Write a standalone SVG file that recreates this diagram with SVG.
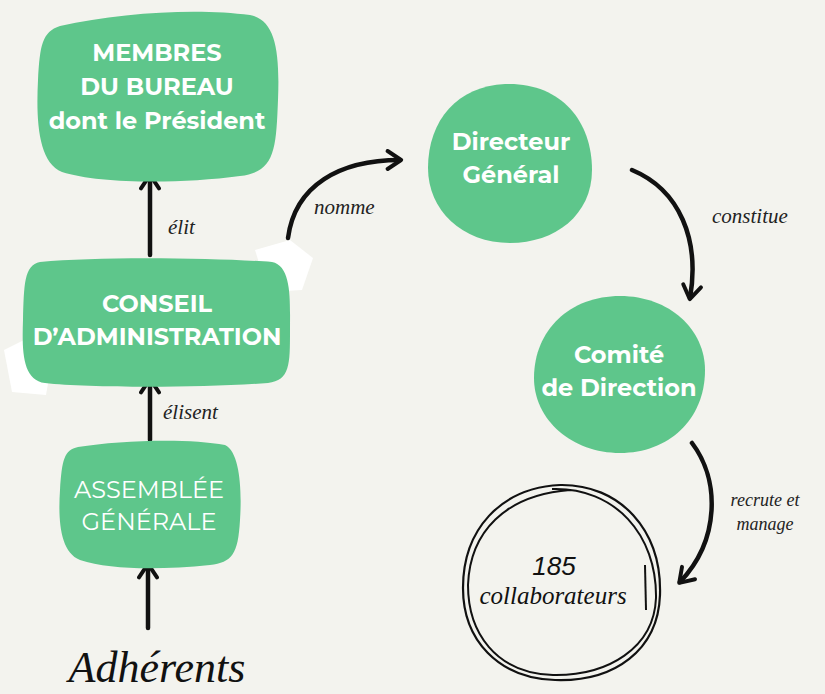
<svg xmlns="http://www.w3.org/2000/svg" width="825" height="694" viewBox="0 0 825 694">
<defs>
<style>
.node{fill:#5ec68b}
.t{font-family:"Montserrat","Open Sans","Noto Sans",sans-serif;fill:#ffffff;text-anchor:middle}
.b{font-weight:700;font-size:24px}
.r{font-weight:400;font-size:24px}
.lbl{font-family:"Liberation Serif","DejaVu Serif",serif;font-style:italic;fill:#222;font-size:21px}
.sm{font-size:18px}
.conn{fill:none;stroke:#111;stroke-width:4.5;stroke-linecap:round;stroke-linejoin:round}
</style>
<marker id="ah" viewBox="0 0 20 20" refX="14" refY="10" markerWidth="5" markerHeight="5" orient="auto" markerUnits="strokeWidth">
<path d="M3,2 L15,10 L3,18" fill="none" stroke="#111" stroke-width="3.5" stroke-linecap="round" stroke-linejoin="round"/>
</marker>
</defs>
<rect width="825" height="694" fill="#f3f3ee"/>
<g id="deco">
<polygon points="255,250 290,240 313,258 302,290 268,292" fill="#ffffff"/>
<polygon points="4,350 28,338 52,360 46,395 12,392" fill="#ffffff"/>
</g>
<g id="connectors">
<path class="conn" d="M150,255 L150,176" marker-end="url(#ah)"/>
<path class="conn" d="M150,440 L150,380" marker-end="url(#ah)"/>
<path class="conn" d="M148,628 L148,565" marker-end="url(#ah)"/>
<path class="conn" d="M288,238 C295,185 340,160 400,160" marker-end="url(#ah)"/>
<path class="conn" d="M632,170 C680,190 700,240 690,298" marker-end="url(#ah)"/>
<path class="conn" d="M692,443 C720,480 720,540 680,582" marker-end="url(#ah)"/>
<text class="lbl" x="168" y="234">élit</text>
<text class="lbl" x="163" y="419">élisent</text>
<text class="lbl" x="314" y="214">nomme</text>
<text class="lbl" x="712" y="223">constitue</text>
<text class="lbl sm" x="765" y="506" text-anchor="middle">recrute et</text>
<text class="lbl sm" x="765" y="530" text-anchor="middle">manage</text>
</g>
<g id="membres">
<path class="node" d="M60,26 C120,12 200,8 250,15 C275,20 280,50 278,100 C276,150 275,172 240,176 C180,184 100,184 62,172 C38,162 36,120 38,80 C40,45 42,32 60,26 Z"/>
<text class="t b" x="157" y="61">MEMBRES</text>
<text class="t b" x="157" y="95">DU BUREAU</text>
<text class="t b" x="157" y="129">dont le Président</text>
</g>
<g id="conseil">
<path class="node" d="M40,262 C100,256 220,258 272,262 C292,266 290,300 290,330 C290,365 290,380 268,383 C200,388 90,388 45,383 C22,380 22,350 23,320 C24,285 24,265 40,262 Z"/>
<text class="t b" x="157" y="312">CONSEIL</text>
<text class="t b" x="157" y="345">D’ADMINISTRATION</text>
</g>
<g id="assemblee">
<path class="node" d="M78,447 C120,440 190,438 225,445 C240,452 242,490 240,520 C238,555 232,562 210,565 C160,570 110,570 80,560 C60,552 58,520 60,490 C62,460 64,450 78,447 Z"/>
<text class="t r" x="149" y="498">ASSEMBLÉE</text>
<text class="t r" x="149" y="530">GÉNÉRALE</text>
</g>
<g id="adherents">
<text x="157" y="682" text-anchor="middle" font-family="Liberation Serif, DejaVu Serif, serif" font-style="italic" font-size="44" fill="#111">Adhérents</text>
</g>
<g id="directeur">
<path class="node" d="M505,84 C560,82 592,120 592,170 C592,215 555,243 510,243 C462,243 428,210 428,168 C428,120 458,86 505,84 Z"/>
<text class="t b" x="511" y="150">Directeur</text>
<text class="t b" x="511" y="183">Général</text>
</g>
<g id="comite">
<path class="node" d="M620,296 C670,296 705,330 705,370 C705,420 668,453 620,453 C572,453 534,420 534,378 C534,330 570,296 620,296 Z"/>
<text class="t b" x="619" y="363">Comité</text>
<text class="t b" x="619" y="396">de Direction</text>
</g>
<g id="collaborateurs">
<path d="M560,485 C620,484 662,530 660,595 C658,650 615,682 555,680 C498,678 463,640 463,588 C463,530 500,488 560,485" fill="none" stroke="#111" stroke-width="2.2"/>
<path d="M552,489 C615,487 657,535 656,598 C654,648 608,676 553,675 C495,673 468,632 468,585 C470,532 505,495 570,490" fill="none" stroke="#111" stroke-width="2"/>
<path d="M645,565 L646,610" fill="none" stroke="#111" stroke-width="2"/>
<text x="554" y="575" text-anchor="middle" font-family="Liberation Sans, sans-serif" font-style="italic" font-size="26" fill="#111">185</text>
<text x="553" y="604" text-anchor="middle" font-family="Liberation Serif, serif" font-style="italic" font-size="25" fill="#111">collaborateurs</text>
</g>
</svg>
